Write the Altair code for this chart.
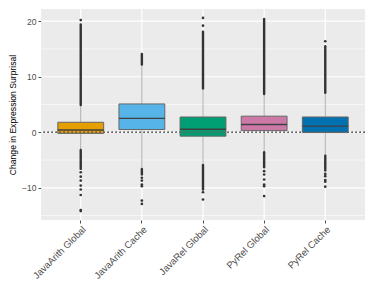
import altair as alt
import pandas as pd

cats = ["JavaArith Global", "JavaArith Cache", "JavaRel Global", "PyRel Global", "PyRel Cache"]
colors = ["#E69F00", "#56B4E9", "#009E73", "#CC79A7", "#0072B2"]
q1 = [-0.2, 0.5, -0.7, 0.3, -0.05]
median = [0.4, 2.5, 0.55, 1.4, 1.1]
q3 = [1.8, 5.1, 2.75, 2.9, 2.75]
whisker_low = [-3.1, -6.4, -5.8, -3.5, -4.1]
whisker_high = [4.8, 12.1, 7.9, 6.8, 7.0]

# densely packed outlier runs (lowest, highest) per category
dense_up_lo = [4.9, 12.2, 7.9, 6.9, 7.1]
dense_up_hi = [19.4, 14.1, 18.1, 20.4, 15.5]
dense_dn_lo = [-6.6, -7.6, -10.3, -6.3, -6.9]
dense_dn_hi = [-3.2, -6.6, -5.9, -3.6, -4.2]

# isolated outliers
sparse_cat = (["JavaArith Global"] * 9 + ["JavaArith Cache"] * 6 + ["JavaRel Global"] * 4
              + ["PyRel Global"] * 6 + ["PyRel Cache"] * 6)
sparse_val = ([20.2, -7.2, -8.0, -8.7, -9.6, -10.3, -11.3, -14.0, -14.2]
              + [-8.2, -8.7, -9.4, -9.7, -12.3, -12.9]
              + [20.6, 19.2, -10.8, -12.1]
              + [-7.0, -7.6, -8.5, -9.4, -9.7, -11.5]
              + [16.4, -7.5, -7.9, -8.6, -8.9, -9.8])

y_ticks = [-10, 0, 10, 20]
minor_grid = [-15, -5, 5, 15]
y_domain = [-15.8, 22.2]

box = pd.DataFrame({"cat": cats, "q1": q1, "median": median, "q3": q3,
                    "wlo": whisker_low, "whi": whisker_high,
                    "dulo": dense_up_lo, "duhi": dense_up_hi,
                    "ddlo": dense_dn_lo, "ddhi": dense_dn_hi})
out = pd.DataFrame({"cat": sparse_cat, "v": sparse_val})
minor = pd.DataFrame({"v": minor_grid})
major = pd.DataFrame({"v": y_ticks})

FONT = "Liberation Sans"
x = alt.X("cat:N", sort=cats, title=None,
          scale=alt.Scale(paddingInner=0.0, paddingOuter=0.15),
          axis=alt.Axis(labelAngle=315, labelAlign="right", labelBaseline="top",
                        labelFontSize=9.5, labelColor="#4D4D4D", labelFont=FONT,
                        tickColor="#4D4D4D", tickSize=3, domain=False,
                        grid=False, bandPosition=0.5, labelPadding=1))
yscale = alt.Scale(domain=y_domain, nice=False, zero=False)
yaxis = alt.Axis(values=y_ticks, title="Change in Expression Surprisal",
                 titleFontSize=8.6, titleFont=FONT, titleColor="black",
                 titleFontWeight="normal", labelFontSize=8.5, labelColor="#4D4D4D",
                 labelFont=FONT, tickColor="#4D4D4D", tickSize=3, domain=False,
                 grid=False, labelPadding=2, titlePadding=4)

base = alt.Chart(box)

minor_layer = alt.Chart(minor).mark_rule(color="white", strokeWidth=0.6).encode(
    y=alt.Y("v:Q", scale=yscale, axis=yaxis))
major_layer = alt.Chart(major).mark_rule(color="white", strokeWidth=1.2).encode(
    y=alt.Y("v:Q", scale=yscale))
vgrid = base.mark_rule(color="white", strokeWidth=1.2).encode(x=x)

whisk_lo = base.mark_rule(color="#A8A8A8", strokeWidth=1).encode(
    x=x, y=alt.Y("wlo:Q", scale=yscale), y2="q1:Q")
whisk_hi = base.mark_rule(color="#A8A8A8", strokeWidth=1).encode(
    x=x, y=alt.Y("q3:Q", scale=yscale), y2="whi:Q")

dense_up = base.mark_rule(color="#333333", strokeWidth=2.4, strokeCap="round").encode(
    x=x, y=alt.Y("dulo:Q", scale=yscale), y2="duhi:Q")
dense_dn = base.mark_rule(color="#333333", strokeWidth=2.4, strokeCap="round").encode(
    x=x, y=alt.Y("ddlo:Q", scale=yscale), y2="ddhi:Q")

pts = alt.Chart(out).mark_circle(color="#333333", size=7, opacity=1).encode(
    x=x, y=alt.Y("v:Q", scale=yscale))

boxes = base.mark_bar(width=alt.RelativeBandSize(0.75), stroke="#666666",
                      strokeWidth=1).encode(
    x=x, y=alt.Y("q1:Q", scale=yscale), y2="q3:Q",
    color=alt.Color("cat:N", scale=alt.Scale(domain=cats, range=colors), legend=None))

med = base.mark_bar(width=alt.RelativeBandSize(0.75), stroke="#404040",
                    strokeWidth=1.4, fill="transparent").encode(
    x=x, y=alt.Y("median:Q", scale=yscale), y2="median:Q")

zero = alt.Chart(box).mark_rule(color="#666666", strokeWidth=0.9,
                                strokeDash=[1.5, 2.5]).encode(y=alt.datum(0))

chart = alt.layer(minor_layer, major_layer, vgrid, whisk_lo, whisk_hi, dense_up,
                  dense_dn, pts, boxes, med, zero).properties(
    width=358, height=273,
    autosize=alt.AutoSizeParams(type="fit", contains="padding"),
    padding=0, background="white",
).configure_view(fill="#EBEBEB", stroke=None)

chart.save("out.html", embed_options={"renderer": "svg", "actions": False})
